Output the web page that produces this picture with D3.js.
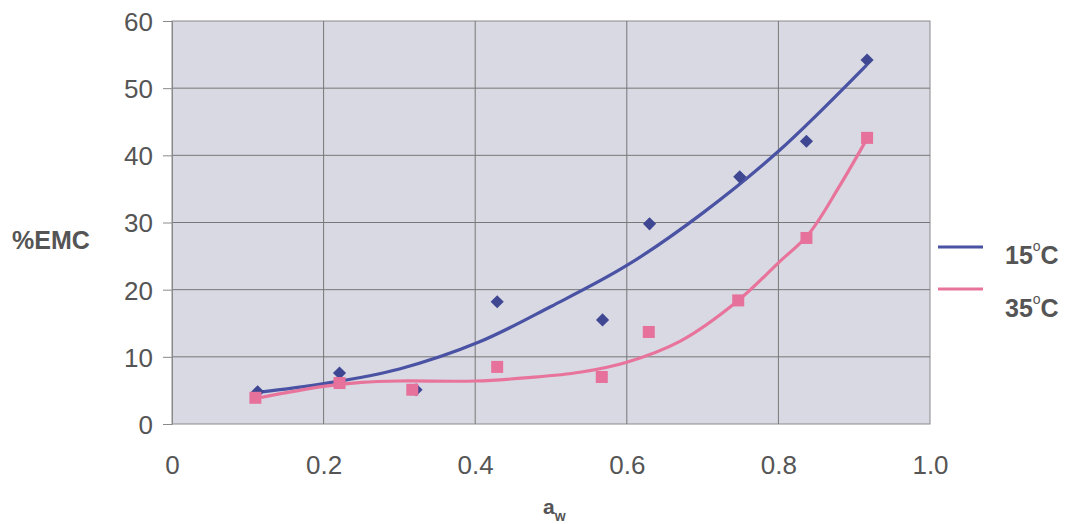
<!DOCTYPE html>
<html>
<head>
<meta charset="utf-8">
<script src="https://cdn.jsdelivr.net/npm/d3@7"></script>
<style>
  body { margin: 0; background: #fff; }
  text { font-family: "Liberation Sans", Arial, sans-serif; fill: #555; }
</style>
</head>
<body>
<div id="chart"></div>
<script>
const aw15 = [0.113, 0.221, 0.322, 0.429, 0.568, 0.63, 0.749, 0.837, 0.917];
const emc15 = [4.8, 7.6, 5.1, 18.2, 15.5, 29.8, 36.8, 42.1, 54.2];
const aw35 = [0.11, 0.221, 0.317, 0.429, 0.567, 0.629, 0.747, 0.837, 0.917];
const emc35 = [3.9, 6.1, 5.1, 8.5, 7.0, 13.7, 18.4, 27.7, 42.6];

// trend lines
const trend15x = [0.113, 0.2, 0.3, 0.405, 0.5, 0.6, 0.7, 0.8, 0.916];
const trend15y = [4.7, 6.0, 8.2, 12.2, 17.5, 23.6, 31.4, 40.6, 53.4];
const trend35x = [0.11, 0.2, 0.25, 0.3, 0.4, 0.47, 0.538, 0.6, 0.67, 0.745, 0.8, 0.84, 0.88, 0.916];
const trend35y = [3.8, 5.6, 6.2, 6.4, 6.4, 6.9, 7.7, 9.2, 12.3, 18.2, 24.0, 28.3, 35.3, 42.3];

const xTicks = [0, 0.2, 0.4, 0.6, 0.8, 1.0];
const xTickLabels = ["0", "0.2", "0.4", "0.6", "0.8", "1.0"];
const yTicks = [0, 10, 20, 30, 40, 50, 60];

const blue = "#4a52a3";
const pink = "#e8749c";

const width = 1066, height = 524;
const margin = { top: 21, right: 136, bottom: 100, left: 172 };

const svg = d3.select("#chart").append("svg")
  .attr("width", width)
  .attr("height", height);

const x = d3.scaleLinear().domain([0, 1]).range([margin.left, width - margin.right]);
const y = d3.scaleLinear().domain([0, 60]).range([height - margin.bottom, margin.top]);

// plot area
svg.append("rect")
  .attr("x", x(0)).attr("y", y(60))
  .attr("width", x(1) - x(0)).attr("height", y(0) - y(60))
  .attr("fill", "#d8d9e3")
  .attr("stroke", "#8a8a8a");

// grid
svg.append("g").selectAll("line")
  .data(xTicks.slice(1, -1))
  .enter().append("line")
  .attr("x1", d => x(d)).attr("x2", d => x(d))
  .attr("y1", y(60)).attr("y2", y(0))
  .attr("stroke", "#777").attr("stroke-width", 1);

svg.append("g").selectAll("line")
  .data(yTicks.slice(1, -1))
  .enter().append("line")
  .attr("x1", x(0)).attr("x2", x(1))
  .attr("y1", d => y(d)).attr("y2", d => y(d))
  .attr("stroke", "#777").attr("stroke-width", 1);

// y axis
const yAxis = svg.append("g")
  .attr("transform", `translate(${x(0)},0)`)
  .call(d3.axisLeft(y).tickValues(yTicks).tickSize(9).tickPadding(10));
yAxis.select(".domain").attr("stroke", "#8a8a8a");
yAxis.selectAll(".tick line").attr("stroke", "#8a8a8a");
yAxis.selectAll(".tick text")
  .style("font-size", "26px").attr("fill", "#555").attr("dy", "0.36em");

// x axis (labels only)
const xAxis = svg.append("g")
  .attr("transform", `translate(0,${y(0)})`)
  .call(d3.axisBottom(x).tickValues(xTicks).tickFormat((d, i) => xTickLabels[i]).tickSize(0).tickPadding(32));
xAxis.select(".domain").remove();
xAxis.selectAll(".tick text").style("font-size", "26px").attr("fill", "#555");

// axis titles
svg.append("text")
  .attr("x", 12).attr("y", 249)
  .style("font-size", "25px").style("font-weight", "bold")
  .text("%EMC");

const awText = svg.append("text")
  .attr("x", 543).attr("y", 514)
  .style("font-size", "21px").style("font-weight", "bold");
awText.append("tspan").text("a");
awText.append("tspan").attr("dy", 7).style("font-size", "14px").text("w");

// trend lines
const line = d3.line()
  .x(d => x(d[0])).y(d => y(d[1]))
  .curve(d3.curveCatmullRom.alpha(0.5));

svg.append("path")
  .datum(trend15x.map((v, i) => [v, trend15y[i]]))
  .attr("d", line)
  .attr("fill", "none").attr("stroke", blue).attr("stroke-width", 3.2);

svg.append("path")
  .datum(trend35x.map((v, i) => [v, trend35y[i]]))
  .attr("d", line)
  .attr("fill", "none").attr("stroke", pink).attr("stroke-width", 3.2);

// markers
svg.append("g").selectAll("path")
  .data(aw15.map((v, i) => [v, emc15[i]]))
  .enter().append("path")
  .attr("transform", d => `translate(${x(d[0])},${y(d[1])})`)
  .attr("d", d3.symbol().type(d3.symbolDiamond2).size(110))
  .attr("fill", "#3f4793");

svg.append("g").selectAll("rect")
  .data(aw35.map((v, i) => [v, emc35[i]]))
  .enter().append("rect")
  .attr("x", d => x(d[0]) - 6).attr("y", d => y(d[1]) - 6)
  .attr("width", 12).attr("height", 12)
  .attr("fill", "#e6729b");

// legend
const legendItems = [
  { label: "15", color: blue, ly: 247, ty: 264 },
  { label: "35", color: pink, ly: 289, ty: 317 }
];
legendItems.forEach(item => {
  svg.append("line")
    .attr("x1", 938).attr("x2", 983)
    .attr("y1", item.ly).attr("y2", item.ly)
    .attr("stroke", item.color).attr("stroke-width", 3);
  const t = svg.append("text")
    .attr("x", 1005).attr("y", item.ty)
    .style("font-size", "25px").style("font-weight", "bold");
  t.append("tspan").text(item.label);
  t.append("tspan").attr("dy", -13).style("font-size", "14px").style("font-weight", "normal").text("o");
  t.append("tspan").attr("dy", 13).text("C");
});
</script>
</body>
</html>
